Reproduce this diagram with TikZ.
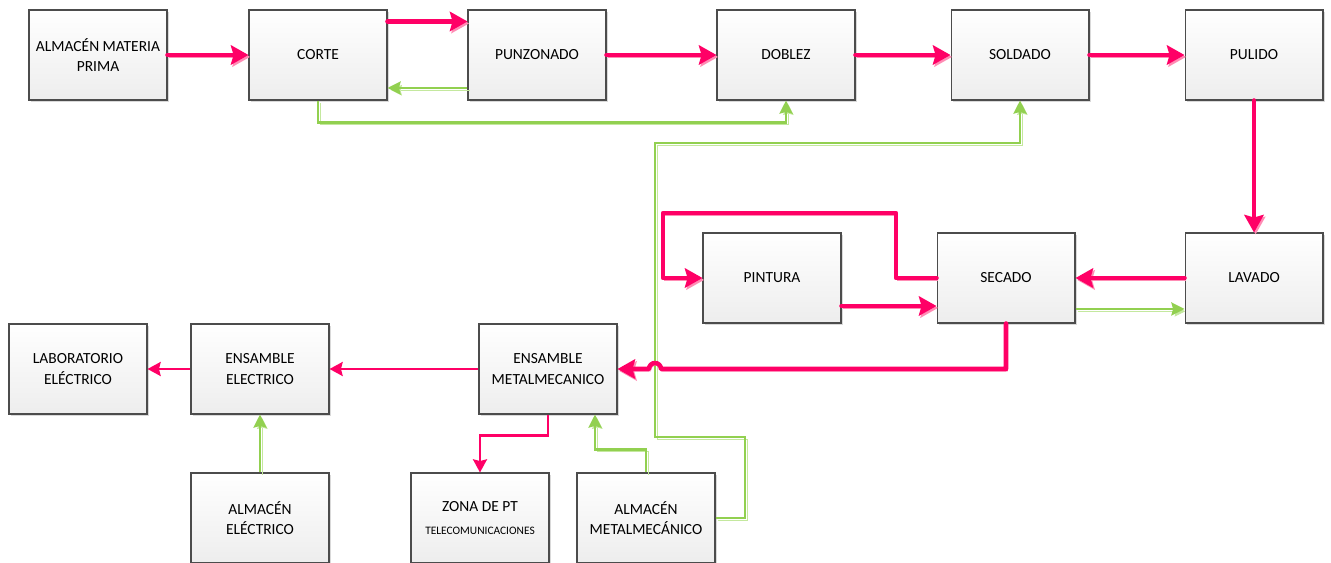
\documentclass[tikz,border=0pt]{standalone}
\usepackage{fontspec}
\setmainfont{Carlito}
\usetikzlibrary{arrows.meta,shadows}
\definecolor{rojoflujo}{RGB}{255,0,102}
\definecolor{rojosombra}{RGB}{255,140,180}
\definecolor{verdeflujo}{RGB}{146,208,80}
\definecolor{verdesombra}{RGB}{196,232,158}
\tikzset{
  proceso/.style={draw=black!70, line width=0.6pt, top color=white, bottom color=black!7,
    minimum width=2.76cm, minimum height=1.8cm, align=center, inner sep=1pt,
    font=\fontsize{8.8}{11.7}\selectfont,
    drop shadow={shadow xshift=1.4pt, shadow yshift=-1.4pt, fill=black, opacity=0.15}},
  flujo/.style={draw=rojoflujo, line width=2.6pt, line join=round, line cap=round,
    -{Stealth[length=10pt,width=11pt,inset=1.5pt]},
    preaction={draw=rojosombra, transform canvas={shift={(0.9pt,-1.1pt)}}}},
  flujofino/.style={draw=rojoflujo, line width=1.3pt, -{Stealth[length=7.5pt,width=8pt,inset=1pt]}},
  retorno/.style={draw=verdeflujo, line width=1.2pt, -{Stealth[length=7.5pt,width=7.5pt,inset=1pt]},
    preaction={draw=verdesombra, transform canvas={shift={(1.3pt,-1.3pt)}}}}
}
\begin{document}
\begin{tikzpicture}[x=0.02cm,y=-0.02cm]
    \useasboundingbox (0,0) rectangle (1331,563);

    \node[proceso] (amp) at (98,55) {ALMACÉN MATERIA\\PRIMA};
    \node[proceso] (corte) at (318,55) {CORTE};
    \node[proceso] (punz) at (537,55) {PUNZONADO};
    \node[proceso] (doblez) at (786,55) {DOBLEZ};
    \node[proceso] (soldado) at (1020,55) {SOLDADO};
    \node[proceso] (pulido) at (1254,55) {PULIDO};
    \node[proceso] (pintura) at (772,278) {PINTURA};
    \node[proceso] (secado) at (1006,278) {SECADO};
    \node[proceso] (lavado) at (1254,278) {LAVADO};
    \node[proceso] (labelec) at (78,369) {LABORATORIO\\ELÉCTRICO};
    \node[proceso] (enselec) at (260,369) {ENSAMBLE\\ELECTRICO};
    \node[proceso] (ensmet) at (548,369) {ENSAMBLE\\METALMECANICO};
    \node[proceso] (zonapt) at (480,518) {ZONA DE PT\\[1pt]{\fontsize{6.5}{8}\selectfont TELECOMUNICACIONES}};
    \node[proceso] (almelec) at (260,518) {ALMACÉN\\ELÉCTRICO};
    \node[proceso] (almmet) at (646,518) {ALMACÉN\\METALMECÁNICO};
    \coordinate (salto) at (655,369);

    \draw[retorno] ([yshift=-0.66cm]punz.west) -- ([yshift=-0.66cm]corte.east);
    \draw[retorno] (corte.south) -- ++(0,22) -| (doblez.south);
    \draw[retorno] ([yshift=-0.62cm]secado.east) -- ([yshift=-0.62cm]lavado.west);
    \draw[retorno] (almelec.north) -- (enselec.south);
    \draw[retorno] (almmet.north) -- ++(0,-23) -| ([xshift=0.94cm]ensmet.south);
    \draw[retorno] (almmet.east) -| (745,437) -| (655,143) -| (soldado.south);

    \draw[flujo] (amp.east) -- (corte.west);
    \draw[flujo] ([yshift=-0.24cm]corte.north east) -- ([yshift=-0.24cm]punz.north west);
    \draw[flujo] (punz.east) -- (doblez.west);
    \draw[flujo] (doblez.east) -- (soldado.west);
    \draw[flujo] (soldado.east) -- (pulido.west);
    \draw[flujo] (pulido.south) -- (lavado.north);
    \draw[flujo] (lavado.west) -- (secado.east);
    \draw[flujo] (secado.west) -- (896,278) |- (663,213) |- (pintura.west);
    \draw[flujo] ([yshift=-0.56cm]pintura.east) -- ([yshift=-0.56cm]secado.west);
    \draw[flujo] (secado.south) |- ([xshift=0.12cm]salto) arc[start angle=0, end angle=180, radius=0.12cm] -- (ensmet.east);

    \draw[flujofino] (ensmet.west) -- (enselec.east);
    \draw[flujofino] (enselec.west) -- (labelec.east);
    \draw[flujofino] (ensmet.south) -- ++(0,21) -| (zonapt.north);
\end{tikzpicture}
\end{document}
